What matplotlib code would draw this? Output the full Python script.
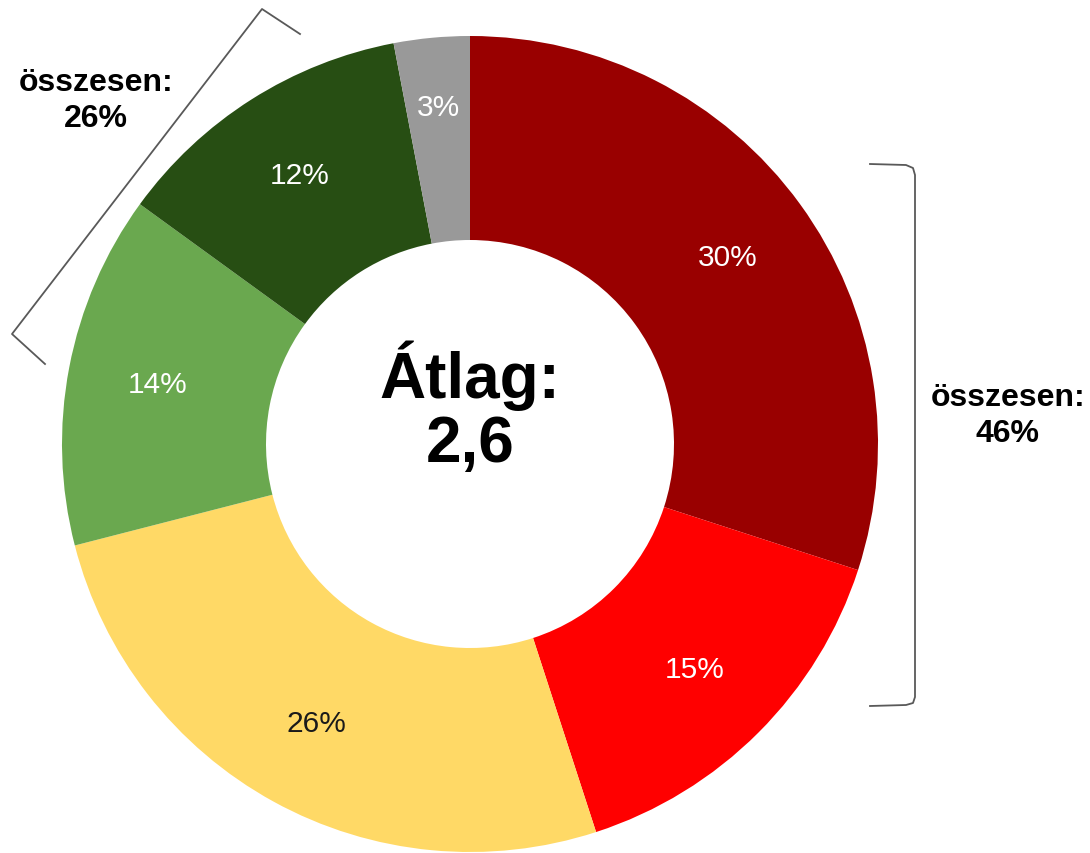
import numpy as np
import matplotlib.pyplot as plt
from matplotlib.lines import Line2D

plt.rcParams['font.family'] = ['Liberation Sans', 'DejaVu Sans']

# data, clockwise from the top
shares = [30, 15, 26, 14, 12, 3]
colors = ['#990000', '#ff0000', '#ffd966', '#6aa84f', '#274e13', '#999999']
label_colors = ['white', 'white', '#1a1a1a', 'white', 'white', 'white']
center_text = 'Átlag:\n2,6'
group_right = 'összesen:\n46%'
group_left = 'összesen:\n26%'

W, H = 1090, 854
fig = plt.figure(figsize=(W / 100, H / 100), dpi=100)

# donut centre at (470, 445) px, radius 408 px
cx, cy, R = 470, 445, 408
ax = fig.add_axes([(cx - R) / W, 1 - (cy + R) / H, 2 * R / W, 2 * R / H])
wedges, texts, autotexts = ax.pie(
    shares, colors=colors, startangle=90, counterclock=False,
    radius=1, wedgeprops=dict(width=0.5, linewidth=0),
    autopct='%d%%', pctdistance=0.78,
    textprops=dict(fontsize=21.5))
for t, c in zip(autotexts, label_colors):
    t.set_color(c)
# the small grey slice has its label a bit further out
w = wedges[-1]
ang = np.deg2rad((w.theta1 + w.theta2) / 2)
autotexts[-1].set_position((0.83 * np.cos(ang), 0.83 * np.sin(ang)))
ax.set_xlim(-1, 1)
ax.set_ylim(-1, 1)
ax.set_aspect('equal')
ax.axis('off')

def fx(px):
    return px / W

def fy(py):
    return 1 - py / H

fig.text(fx(cx), fy(408), center_text, ha='center', va='center',
         fontsize=46, fontweight='bold', linespacing=1.08)

# brackets
bcol = '#595959'
left_x = [300, 262, 12, 45]
left_y = [35, 10, 335, 365]
right_x = [870, 906, 913, 915, 915, 913, 906, 870]
right_y = [165, 166, 169, 176, 698, 704, 706, 707]
fig.add_artist(Line2D([fx(x) for x in left_x], [fy(y) for y in left_y],
                      color=bcol, lw=1.3, transform=fig.transFigure))
fig.add_artist(Line2D([fx(x) for x in right_x], [fy(y) for y in right_y],
                      color=bcol, lw=1.3, transform=fig.transFigure))

fig.text(fx(96), fy(101), group_left, ha='center', va='center',
         fontsize=23, fontweight='bold', linespacing=1.22)
fig.text(fx(1008), fy(416), group_right, ha='center', va='center',
         fontsize=23, fontweight='bold', linespacing=1.22)

fig.savefig('out.png', dpi=100, facecolor='white')
